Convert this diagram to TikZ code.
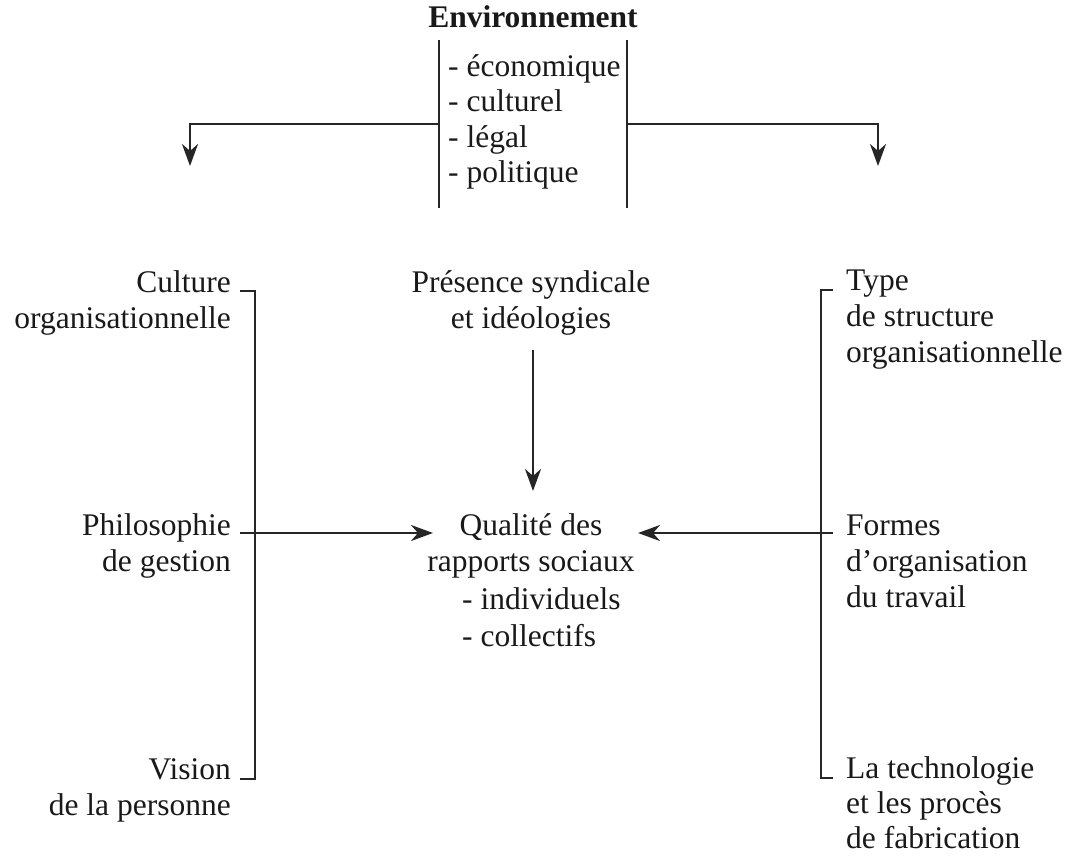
\documentclass[tikz,border=0pt]{standalone}
\usepackage{fontspec}
\setmainfont{Liberation Serif}
\usetikzlibrary{arrows.meta}
\begin{document}
\begin{tikzpicture}[x=1pt,y=-1pt,
  txt/.style={inner sep=0pt, text=black!90, font=\fontsize{31.5}{36}\selectfont},
  ttl/.style={txt, font=\fontsize{31.5}{36}\selectfont\bfseries},
  ln/.style={line width=2.4pt, draw=black!85},
  arr/.style={ln, -{Stealth[length=22pt,width=16pt,inset=7pt]}}]
\useasboundingbox (0,0) rectangle (1081,861);

% ---- top: environnement
\node[ttl, anchor=base] (env) at (533,28) {Environnement};
\coordinate (Lt) at (439,40);
\coordinate (Lb) at (439,208);
\coordinate (Rt) at (627,40);
\coordinate (Rb) at (627,208);
\draw[ln] (Lt) -- (Lb);
\draw[ln] (Rt) -- (Rb);
\node[txt, anchor=base west] (eco) at (448,77) {- économique};
\node[txt, anchor=base west] (cul) at (448,112) {- culturel};
\node[txt, anchor=base west] (leg) at (448,148) {- légal};
\node[txt, anchor=base west] (pol) at (448,183) {- politique};

\coordinate (Lh) at (439,124);
\coordinate (Lc) at (190,124);
\coordinate (La) at (190,166);
\coordinate (Rh) at (627,124);
\coordinate (Rc) at (878,124);
\coordinate (Ra) at (878,166);
\draw[arr] (Lh) -- (Lc) -- (La);
\draw[arr] (Rh) -- (Rc) -- (Ra);

% ---- left bracket
\coordinate (LBt0) at (240,291);
\coordinate (LBt) at (255,291);
\coordinate (LBb) at (255,779);
\coordinate (LBb0) at (240,779);
\draw[ln] (LBt0) -- (LBt) -- (LBb) -- (LBb0);
\node[txt, anchor=base east] (cult1) at (231,292) {Culture};
\node[txt, anchor=base east] (cult2) at (231,328) {organisationnelle};
\node[txt, anchor=base east] (phil1) at (231,535) {Philosophie};
\node[txt, anchor=base east] (phil2) at (231,571) {de gestion};
\node[txt, anchor=base east] (vis1) at (231,779) {Vision};
\node[txt, anchor=base east] (vis2) at (231,815) {de la personne};

% ---- right bracket
\coordinate (RBt0) at (833,290);
\coordinate (RBt) at (821,290);
\coordinate (RBb) at (821,778);
\coordinate (RBb0) at (833,778);
\draw[ln] (RBt0) -- (RBt) -- (RBb) -- (RBb0);
\node[txt, anchor=base west] (type1) at (846,290) {Type};
\node[txt, anchor=base west] (type2) at (846,326) {de structure};
\node[txt, anchor=base west] (type3) at (846,362) {organisationnelle};
\node[txt, anchor=base west] (form1) at (846,535) {Formes};
\node[txt, anchor=base west] (form2) at (846,571) {d'organisation};
\node[txt, anchor=base west] (form3) at (846,607) {du travail};
\node[txt, anchor=base west] (tech1) at (846,778) {La technologie};
\node[txt, anchor=base west] (tech2) at (846,813) {et les procès};
\node[txt, anchor=base west] (tech3) at (846,848) {de fabrication};

% ---- centre
\node[txt, anchor=base] (pres1) at (531,292) {Présence syndicale};
\node[txt, anchor=base] (pres2) at (531,328) {et idéologies};
\node[txt, anchor=base] (qual1) at (531,535) {Qualité des};
\node[txt, anchor=base] (qual2) at (531,571) {rapports sociaux};
\node[txt, anchor=base west] (qual3) at (462,609) {- individuels};
\node[txt, anchor=base west] (qual4) at (462,646) {- collectifs};

\coordinate (Ps) at (533,350);
\coordinate (Pe) at (533,491);
\draw[arr] (Ps) -- (Pe);
\coordinate (Gs) at (240,533);
\coordinate (Ge) at (433,533);
\draw[arr] (Gs) -- (Ge);
\coordinate (Fs) at (833,533);
\coordinate (Fe) at (638,533);
\draw[arr] (Fs) -- (Fe);
\end{tikzpicture}
\end{document}
